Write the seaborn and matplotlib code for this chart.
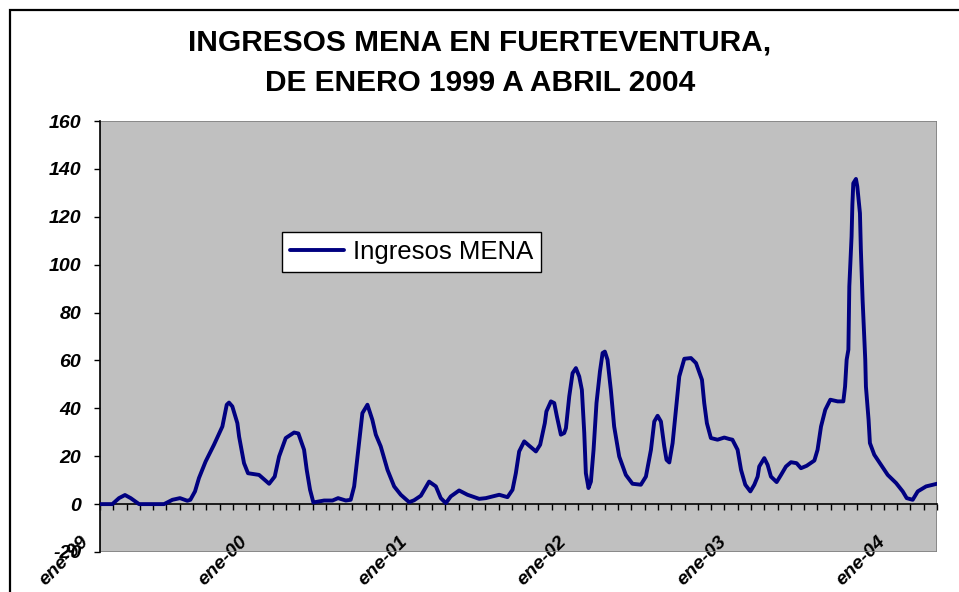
import matplotlib
matplotlib.use("Agg")
import matplotlib.pyplot as plt
import matplotlib.transforms as mtransforms
from matplotlib.patches import Rectangle
from matplotlib.ticker import MultipleLocator
import seaborn as sns

# mes (0 = enero 1999) y número de ingresos
meses = [
    0.0, 0.93, 1.43, 1.88, 2.31, 2.94, 4.82, 5.45, 6.02, 6.57, 6.8, 7.15, 7.45, 7.95,
    8.58, 9.21, 9.54, 9.71, 9.96, 10.34, 10.47, 10.84, 11.14, 11.97, 12.73, 13.15,
    13.48, 13.98, 14.61, 14.93, 15.36, 15.56, 15.81, 16.06, 16.87, 17.5, 17.92, 18.5,
    18.87, 19.13, 19.5, 19.75, 20.13, 20.5, 20.76, 21.13, 21.64, 22.14, 22.64, 23.27,
    23.64, 24.15, 24.77, 25.28, 25.65, 26.03, 26.4, 27.03, 27.66, 28.54, 29.04, 30.05,
    30.67, 31.05, 31.3, 31.55, 31.93, 32.3, 32.81, 33.13, 33.48, 33.6, 33.94, 34.19,
    34.39, 34.69, 34.94, 35.07, 35.32, 35.57, 35.82, 36.07, 36.27, 36.45, 36.57, 36.77,
    36.95, 37.15, 37.37, 37.63, 37.83, 38.0, 38.2, 38.45, 38.7, 39.08, 39.58, 40.08,
    40.71, 41.09, 41.47, 41.72, 41.97, 42.22, 42.47, 42.64, 42.85, 43.1, 43.35, 43.6,
    43.98, 44.48, 44.86, 45.31, 45.48, 45.68, 45.98, 46.48, 46.99, 47.36, 47.6, 47.99,
    48.25, 48.57, 48.95, 49.25, 49.5, 49.62, 50.0, 50.25, 50.5, 50.93, 51.26, 51.63,
    52.01, 52.43, 52.76, 53.19, 53.77, 54.01, 54.27, 54.59, 54.97, 55.52, 55.95, 56.08,
    56.2, 56.33, 56.4, 56.53, 56.57, 56.63, 56.7, 56.9, 57.0, 57.2, 57.27, 57.4, 57.6,
    57.65, 57.85, 57.95, 58.28, 58.79, 59.29, 59.92, 60.42, 60.72, 61.17, 61.55, 62.18,
    63.0,
]
ingresos = [
    0, 0, 2.5, 3.8, 2.5, 0, 0, 1.8, 2.5, 1.4, 1.8, 5.3, 10.9, 17.8,
    24.8, 32.4, 41.5, 42.4, 40.8, 33.8, 28.2, 17.1, 12.9, 12.2, 8.5, 11.5,
    19.9, 27.6, 29.9, 29.5, 22.7, 14.3, 6.0, 0.7, 1.5, 1.5, 2.5, 1.5,
    1.8, 7.4, 25.5, 38.0, 41.5, 35.2, 29.0, 24.1, 14.3, 7.4, 3.9, 0.8,
    1.6, 3.5, 9.4, 7.4, 2.5, 0.4, 3.2, 5.7, 3.9, 2.2, 2.5, 3.9,
    2.9, 6.0, 12.9, 22.0, 26.2, 24.4, 22.0, 24.8, 33.8, 38.7, 42.9, 42.2,
    36.6, 29.0, 29.7, 31.7, 45.0, 54.7, 56.8, 53.3, 47.7, 29.7, 12.9, 6.7,
    9.4, 22.7, 42.2, 55.4, 63.1, 63.7, 60.3, 47.7, 32.4, 19.9, 12.2, 8.5,
    8.1, 11.5, 22.7, 34.5, 36.9, 34.5, 24.1, 18.5, 17.4, 25.5, 39.4, 53.3,
    60.7, 61.0, 58.9, 51.9, 42.2, 33.8, 27.6, 26.9, 27.8, 27.2, 26.9, 22.7,
    14.3, 8.1, 5.3, 8.1, 11.5, 15.7, 19.2, 16.4, 11.5, 9.2, 12.2, 15.7,
    17.5, 17.1, 15.0, 16.0, 18.2, 22.7, 32.4, 39.4, 43.6, 42.9, 42.9, 49.1,
    60.3, 64.5, 90.9, 107.6, 111.8, 125.0, 134.0, 135.8, 132.7, 121.5, 106.2, 85.3, 60.3,
    49.1, 35.2, 25.5, 20.6, 16.4, 12.2, 8.8, 5.3, 2.5, 1.8, 5.3, 7.4,
    8.5,
]
pos_etiquetas = [0, 12, 24, 36, 48, 60]
etiquetas = ["ene-99", "ene-00", "ene-01", "ene-02", "ene-03", "ene-04"]

sns.set_style("white")
plt.rcParams["font.family"] = ["Liberation Sans", "DejaVu Sans"]
plt.rcParams["axes.unicode_minus"] = False
plt.rcParams["text.color"] = "black"
plt.rcParams["xtick.color"] = "black"
plt.rcParams["ytick.color"] = "black"

AZUL = "#000080"

fig = plt.figure(figsize=(9.59, 5.92), dpi=100)
ax = fig.add_axes([100 / 959, 1 - 552 / 592, 837 / 959, 431 / 592])
ax.set_facecolor("#C0C0C0")

sns.lineplot(x=meses, y=ingresos, ax=ax, color=AZUL, linewidth=2.8,
             sort=False, estimator=None, label="Ingresos MENA", zorder=4)
for ln in ax.lines:
    ln.set_solid_joinstyle("round")
    ln.set_solid_capstyle("round")

ax.set_xlim(0, 63)
ax.set_ylim(-20, 160)

# marco gris del área de trazado
for s in ["top", "right"]:
    ax.spines[s].set_visible(False)
ax.add_patch(Rectangle((0, 0), 1, 1, transform=ax.transAxes, fill=False,
                       edgecolor="#808080", linewidth=1.2, zorder=1))
ax.spines["left"].set_color("black")
ax.spines["left"].set_linewidth(1.2)
ax.spines["bottom"].set_position(("data", 0))
ax.spines["bottom"].set_color("black")
ax.spines["bottom"].set_linewidth(1.2)

# eje y
ax.yaxis.set_major_locator(MultipleLocator(20))
ax.tick_params(axis="y", direction="out", length=4.5, width=1, pad=9, left=True)
for t in ax.get_yticklabels():
    t.set_fontweight("bold")
    t.set_fontstyle("italic")
    t.set_fontsize(14)

# eje x: marcas mensuales, etiquetas cada enero
ax.set_xticks(pos_etiquetas)
ax.set_xticklabels(etiquetas)
ax.xaxis.set_minor_locator(MultipleLocator(1))
ax.tick_params(axis="x", which="both", direction="out", length=4.5, width=1,
               bottom=True, pad=16)
desplaza = mtransforms.ScaledTranslation(-20 / 100, 0, fig.dpi_scale_trans)
for t in ax.get_xticklabels():
    t.set_rotation(45)
    t.set_ha("right")
    t.set_va("top")
    t.set_rotation_mode("anchor")
    t.set_fontweight("bold")
    t.set_fontstyle("italic")
    t.set_fontsize(14)
    t.set_transform(t.get_transform() + desplaza)
ax.set_xlabel("")
ax.set_ylabel("")

ax.legend(loc="upper left", bbox_to_anchor=(0.2175, 0.742), borderaxespad=0,
          fancybox=False, framealpha=1, edgecolor="black", facecolor="white",
          fontsize=18.5, handlelength=2.1, handletextpad=0.35, borderpad=0.3)
ax.get_legend().get_frame().set_linewidth(1)

fig.text(480 / 959, 1 - 63 / 592,
         "INGRESOS MENA EN FUERTEVENTURA,\nDE ENERO 1999 A ABRIL 2004",
         ha="center", va="center", fontsize=21.5, fontweight="bold", linespacing=1.55)

# marco del gráfico
fig.patches.append(Rectangle((10 / 959, -0.1), 1.2, 1.1 - 10 / 592,
                             transform=fig.transFigure, fill=False,
                             edgecolor="black", linewidth=1.6, figure=fig))

fig.savefig("out.png", dpi=100)
